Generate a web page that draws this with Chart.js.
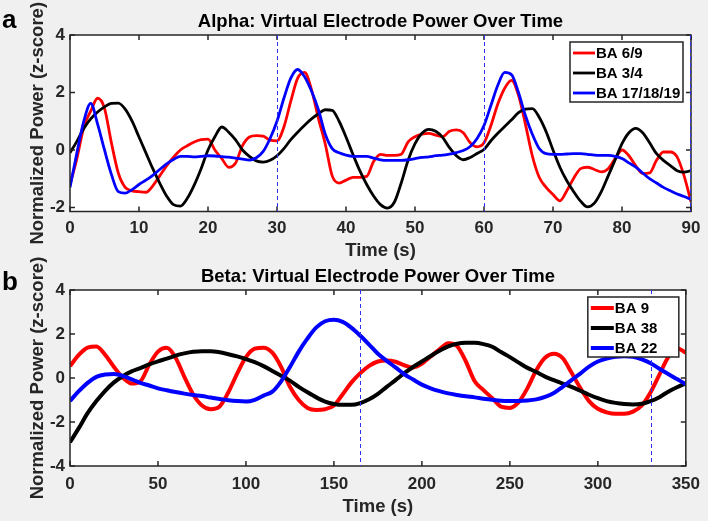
<!DOCTYPE HTML>
<html>

<head>
	<meta charset="UTF-8">
	<title>Virtual Electrode Power Over Time</title>
	<script src="https://cdn.jsdelivr.net/npm/chart.js"></script>
	<style>
		body {
			margin: 0;
			padding: 0;
			background: #f0f0f0;
			width: 708px;
			height: 521px;
			overflow: hidden;
			position: relative;
		}

		canvas {
			position: absolute;
			left: 0;
		}

		#alphaChart {
			top: 0;
		}

		#betaChart {
			top: 256px;
		}
	</style>
</head>

<body>
	<canvas id="alphaChart" width="708" height="270"></canvas>
	<canvas id="betaChart" width="708" height="265"></canvas>

	<script>
		// ---- panel a : alpha, one sample per second (0..90 s)
		var alphaStep = 1;
		var alphaLabels = ['BA 6/9', 'BA 3/4', 'BA 17/18/19'];
		var alphaRed = [
			-1.2, -0.3, 0.8, 1.35, 1.8, 1.45, 0.25, -0.8, -1.3, -1.42,
			-1.45, -1.47, -1.25, -0.9, -0.55, -0.25, 0.0, 0.15, 0.28, 0.36,
			0.38, 0.0, -0.3, -0.6, -0.45, 0.15, 0.45, 0.5, 0.48, 0.34,
			0.32, 0.8, 1.7, 2.5, 2.7, 2.1, 1.1, 0.2, -0.9, -1.15,
			-1.05, -0.95, -0.95, -0.92, -0.4, -0.15, -0.19, -0.19, -0.15, 0.28,
			0.46, 0.55, 0.58, 0.52, 0.46, 0.65, 0.7, 0.6, 0.25, 0.11,
			0.25, 0.85, 1.6, 2.15, 2.42, 1.9, 0.9, -0.2, -0.95, -1.3,
			-1.55, -1.77, -1.42, -0.98, -0.65, -0.6, -0.68, -0.76, -0.65, -0.3,
			0.0, -0.2, -0.55, -0.82, -0.8, -0.36, -0.07, -0.07, -0.25, -0.9,
			-1.8
		];
		var alphaBlack = [
			-0.1, 0.3, 0.75, 1.08, 1.32, 1.5, 1.62, 1.63, 1.42, 1.0,
			0.45, -0.1, -0.65, -1.15, -1.6, -1.9, -1.95, -1.68, -1.22, -0.65,
			0.0, 0.46, 0.8, 0.62, 0.35, 0.0, -0.22, -0.38, -0.42, -0.36,
			-0.2, 0.05, 0.36, 0.62, 0.86, 1.08, 1.26, 1.4, 1.38, 1.0,
			0.45, -0.15, -0.72, -1.2, -1.6, -1.9, -2.02, -1.82, -1.15, -0.36,
			0.22, 0.58, 0.72, 0.65, 0.44, 0.08, -0.2, -0.34, -0.26, -0.12,
			0.02, 0.32, 0.58, 0.82, 1.05, 1.3, 1.42, 1.44, 1.14, 0.64,
			0.0, -0.6, -1.07, -1.45, -1.78, -1.98, -1.85, -1.45, -0.9, -0.35,
			0.22, 0.6, 0.75, 0.6, 0.25, -0.13, -0.36, -0.54, -0.72, -0.77,
			-0.72
		];
		var alphaBlue = [
			-1.3, -0.1, 1.0, 1.62, 0.9, 0.0, -0.85, -1.45, -1.5, -1.38,
			-1.2, -1.05, -0.88, -0.68, -0.48, -0.33, -0.22, -0.22, -0.24, -0.22,
			-0.2, -0.21, -0.23, -0.25, -0.28, -0.32, -0.35, -0.27, -0.05, 0.4,
			1.0, 1.8, 2.5, 2.8, 2.55, 2.05, 1.4, 0.55, 0.05, -0.1,
			-0.18, -0.22, -0.22, -0.22, -0.28, -0.34, -0.36, -0.36, -0.36, -0.34,
			-0.3, -0.26, -0.24, -0.2, -0.18, -0.14, -0.09, -0.02, 0.12, 0.4,
			0.85, 1.55, 2.25, 2.7, 2.62, 2.0, 1.2, 0.55, 0.05, -0.13,
			-0.15, -0.15, -0.14, -0.13, -0.13, -0.15, -0.18, -0.19, -0.19, -0.22,
			-0.3, -0.45, -0.6, -0.8, -1.0, -1.15, -1.3, -1.42, -1.53, -1.62,
			-1.72
		];
		var alphaMarkers = [30, 60, 90];
		var alphaXTicks = [0, 10, 20, 30, 40, 50, 60, 70, 80, 90];
		var alphaYTicks = [-2, 0, 2, 4];

		// ---- panel b : beta, one sample every 5 s (0..350 s)
		var betaStep = 5;
		var betaLabels = ['BA 9', 'BA 38', 'BA 22'];
		var betaRed = [
			0.54, 1.05, 1.38, 1.43, 1.05, 0.5, 0.02, -0.25, -0.15, 0.6,
			1.2, 1.37, 0.92, 0.05, -0.75, -1.25, -1.42, -1.3, -0.65, 0.2,
			0.95, 1.33, 1.38, 1.15, 0.5, -0.4, -1.0, -1.36, -1.45, -1.42,
			-1.25, -0.74, -0.2, 0.22, 0.55, 0.75, 0.8, 0.74, 0.58, 0.48,
			0.65, 0.98, 1.3, 1.58, 1.45, 0.75, -0.15, -0.55, -0.92, -1.3,
			-1.36, -1.1, -0.46, 0.35, 0.92, 1.1, 0.9, 0.25, -0.45, -1.05,
			-1.4, -1.56, -1.63, -1.63, -1.53, -1.25, -0.65, 0.15, 0.95, 1.35,
			1.15
		];
		var betaBlack = [
			-2.92, -2.28, -1.6, -1.05, -0.58, -0.2, 0.08, 0.3, 0.45, 0.62,
			0.76, 0.88, 1.02, 1.12, 1.19, 1.22, 1.22, 1.17, 1.08, 0.98,
			0.86, 0.72, 0.54, 0.32, 0.1, -0.12, -0.4, -0.65, -0.88, -1.07,
			-1.18, -1.22, -1.22, -1.14, -0.97, -0.72, -0.4, -0.1, 0.22, 0.5,
			0.75, 1.0, 1.24, 1.44, 1.56, 1.6, 1.6, 1.54, 1.42, 1.18,
			0.95, 0.7, 0.46, 0.27, 0.06, -0.1, -0.25, -0.4, -0.58, -0.76,
			-0.92, -1.05, -1.13, -1.18, -1.2, -1.17, -1.05, -0.87, -0.62, -0.42,
			-0.25
		];
		var betaBlue = [
			-1.04, -0.6, -0.22, 0.05, 0.16, 0.18, 0.1, -0.06, -0.22, -0.34,
			-0.47, -0.56, -0.64, -0.71, -0.77, -0.82, -0.89, -0.95, -1.01, -1.05,
			-1.07, -0.99, -0.8, -0.62, -0.15, 0.5, 1.2, 1.8, 2.3, 2.58,
			2.65, 2.55, 2.28, 1.92, 1.52, 1.1, 0.78, 0.48, 0.17, -0.07,
			-0.3, -0.47, -0.6, -0.7, -0.77, -0.83, -0.88, -0.94, -0.99, -1.03,
			-1.04, -1.04, -1.02, -0.97, -0.86, -0.68, -0.4, -0.1, 0.2, 0.52,
			0.75, 0.88, 0.96, 0.99, 0.96, 0.85, 0.67, 0.42, 0.18, -0.05,
			-0.28
		];
		var betaMarkers = [165, 330];
		var betaXTicks = [0, 50, 100, 150, 200, 250, 300, 350];
		var betaYTicks = [-4, -2, 0, 2, 4];

		var seriesColors = ['#ff0000', '#000000', '#0000ff'];
		var axisColor = '#262626';
		var fontFamily = '"Liberation Sans", Arial, sans-serif';

		function toPoints(values, step) {
			return values.map(function (v, i) { return { x: i * step, y: v }; });
		}

		// MATLAB-like axes: white box, inward ticks, boxed legend, title and panel letter
		var matlabLook = {
			id: 'matlabLook',
			beforeDraw: function (chart) {
				var a = chart.chartArea, ctx = chart.ctx;
				ctx.save();
				ctx.fillStyle = '#ffffff';
				ctx.fillRect(a.left, a.top, a.right - a.left, a.bottom - a.top);
				ctx.restore();
			},
			afterDatasetsDraw: function (chart, args, opts) {
				var a = chart.chartArea, ctx = chart.ctx;
				var xs = chart.scales.x, ys = chart.scales.y;
				ctx.save();
				ctx.strokeStyle = axisColor;
				ctx.lineWidth = 1.5;
				ctx.setLineDash([]);
				// inward ticks on all four sides
				ctx.beginPath();
				xs.ticks.forEach(function (t) {
					var px = xs.getPixelForValue(t.value);
					ctx.moveTo(px, a.bottom); ctx.lineTo(px, a.bottom - 5);
					ctx.moveTo(px, a.top); ctx.lineTo(px, a.top + 5);
				});
				ys.ticks.forEach(function (t) {
					var py = ys.getPixelForValue(t.value);
					ctx.moveTo(a.left, py); ctx.lineTo(a.left + 5, py);
					ctx.moveTo(a.right, py); ctx.lineTo(a.right - 5, py);
				});
				ctx.stroke();
				ctx.strokeRect(a.left, a.top, a.right - a.left, a.bottom - a.top);

				// dashed time markers
				ctx.strokeStyle = '#2f2fff';
				ctx.lineWidth = 1;
				ctx.setLineDash([4, 3]);
				opts.markers.forEach(function (m) {
					var px = Math.round(xs.getPixelForValue(m)) + 0.5;
					if (px > a.right) px = a.right - 0.5;
					ctx.beginPath();
					ctx.moveTo(px, a.top);
					ctx.lineTo(px, a.bottom);
					ctx.stroke();
				});
				ctx.setLineDash([]);

				// legend box
				var lg = opts.legend;
				var bx = a.right - lg.inset - lg.width, by = a.top + lg.top;
				ctx.strokeStyle = axisColor;
				ctx.lineWidth = 1.5;
				ctx.fillStyle = '#ffffff';
				ctx.fillRect(bx, by, lg.width, lg.height);
				ctx.strokeRect(bx, by, lg.width, lg.height);
				ctx.font = 'bold 15px ' + fontFamily;
				ctx.textBaseline = 'middle';
				ctx.textAlign = 'left';
				chart.data.datasets.forEach(function (ds, i) {
					var ry = by + lg.firstRow + i * lg.rowH;
					ctx.strokeStyle = ds.borderColor;
					ctx.lineWidth = ds.borderWidth;
					ctx.beginPath();
					ctx.moveTo(bx + 3, ry);
					ctx.lineTo(bx + 3 + lg.lineLen, ry);
					ctx.stroke();
					ctx.fillStyle = '#000000';
					ctx.fillText(ds.label, bx + 4 + lg.lineLen, ry + 1);
				});

				// title centred over the axes
				ctx.fillStyle = '#000000';
				ctx.textAlign = 'center';
				ctx.font = 'bold 18.5px ' + fontFamily;
				ctx.fillText(opts.title, (a.left + a.right) / 2, opts.titleY);

				// panel letter
				ctx.textAlign = 'left';
				ctx.textBaseline = 'alphabetic';
				ctx.font = 'bold 26px ' + fontFamily;
				ctx.fillText(opts.letter, 2, opts.letterY);
				ctx.restore();
			}
		};

		function makeDatasets(labels, series, step, width) {
			return series.map(function (values, i) {
				return {
					label: labels[i],
					data: toPoints(values, step),
					borderColor: seriesColors[i],
					borderWidth: width,
					pointRadius: 0,
					cubicInterpolationMode: 'monotone',
					fill: false,
					order: 3 - i
				};
			});
		}

		function makeChart(canvasId, cfg) {
			var tickFont = { family: fontFamily, size: 17, weight: 'bold' };
			var titleFont = { family: fontFamily, size: 18.5, weight: 'bold' };
			return new Chart(document.getElementById(canvasId), {
				type: 'line',
				data: { datasets: cfg.datasets },
				options: {
					responsive: false,
					animation: false,
					events: [],
					layout: { padding: { left: 0, right: 17, top: cfg.top, bottom: 0 } },
					plugins: {
						legend: { display: false },
						tooltip: { enabled: false },
						matlabLook: cfg.look
					},
					scales: {
						x: {
							type: 'linear',
							min: cfg.xMin,
							max: cfg.xMax,
							grid: { display: false, drawTicks: false },
							border: { display: false },
							afterFit: function (s) { s.height = cfg.xHeight; },
							afterBuildTicks: function (s) {
								s.ticks = cfg.xTicks.map(function (v) { return { value: v }; });
							},
							ticks: { padding: cfg.xTickPad, color: axisColor, font: tickFont, maxRotation: 0, autoSkip: false },
							title: {
								display: true, text: 'Time (s)', color: axisColor, font: titleFont,
								padding: { top: 0, bottom: cfg.xTitlePad }
							}
						},
						y: {
							type: 'linear',
							min: cfg.yMin,
							max: cfg.yMax,
							grid: { display: false, drawTicks: false },
							border: { display: false },
							afterFit: function (s) { s.width = 70; },
							afterBuildTicks: function (s) {
								s.ticks = cfg.yTicks.map(function (v) { return { value: v }; });
							},
							ticks: { padding: 5, color: axisColor, font: tickFont },
							title: {
								display: true, text: 'Normalized Power (z-score)', color: axisColor, font: titleFont,
								padding: { top: 27, bottom: 0 }
							}
						}
					}
				},
				plugins: [matlabLook]
			});
		}

		makeChart('alphaChart', {
			datasets: makeDatasets(alphaLabels, [alphaRed, alphaBlack, alphaBlue], alphaStep, 2.8),
			top: 35, xMin: 0, xMax: 90, yMin: -2.14, yMax: 4,
			xTicks: alphaXTicks, yTicks: alphaYTicks,
			xHeight: 58.5, xTickPad: 7, xTitlePad: 8,
			look: {
				title: 'Alpha: Virtual Electrode Power Over Time', titleY: 22,
				letter: 'a', letterY: 28,
				markers: alphaMarkers,
				legend: { inset: 8, top: 7, width: 113, height: 60, firstRow: 11, rowH: 20, lineLen: 22 }
			}
		});

		makeChart('betaChart', {
			datasets: makeDatasets(betaLabels, [betaRed, betaBlack, betaBlue], betaStep, 4),
			top: 34, xMin: 0, xMax: 350, yMin: -4, yMax: 4,
			xTicks: betaXTicks, yTicks: betaYTicks,
			xHeight: 55, xTickPad: 8, xTitlePad: 3,
			look: {
				title: 'Beta: Virtual Electrode Power Over Time', titleY: 21,
				letter: 'b', letterY: 34,
				markers: betaMarkers,
				legend: { inset: 7, top: 7, width: 91, height: 60, firstRow: 11, rowH: 20, lineLen: 23 }
			}
		});
	</script>
</body>

</html>
